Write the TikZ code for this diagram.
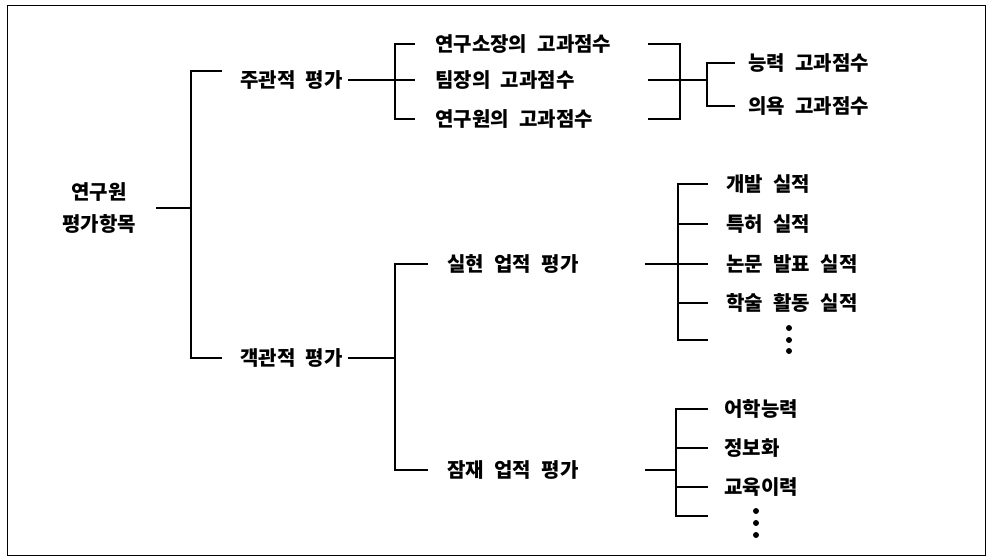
\documentclass[tikz,border=0pt]{standalone}
\usepackage{fontspec}
\setmainfont{Noto Sans CJK KR}
\begin{document}
\begin{tikzpicture}[x=1pt,y=-1pt,
  br/.style={line width=1.8pt},
  lab/.style={anchor=west,inner sep=0pt,
    font={\fontsize{20}{32}\selectfont\bfseries\spaceskip=10.5pt\relax}}]
\useasboundingbox (0,0) rectangle (988,559);
\draw[line width=0.9pt] (7,5) rectangle (985,555);

% texts
\node[lab,anchor=center,align=center] (root) at (99,208) {연구원\\평가항목};
\node[lab] (sub) at (240,80) {주관적 평가};
\node[lab] (obj) at (240,358) {객관적 평가};
\node[lab] (s1) at (435,44) {연구소장의 고과점수};
\node[lab] (s2) at (435,80) {팀장의 고과점수};
\node[lab] (s3) at (435,119) {연구원의 고과점수};
\node[lab] (c1) at (748,63) {능력 고과점수};
\node[lab] (c2) at (748,106) {의욕 고과점수};
\node[lab] (o1) at (447,264) {실현 업적 평가};
\node[lab] (o2) at (447,470) {잠재 업적 평가};
\node[lab] (a1) at (726,184) {개발 실적};
\node[lab] (a2) at (726,224) {특허 실적};
\node[lab] (a3) at (726,264) {논문 발표 실적};
\node[lab] (a4) at (726,303) {학술 활동 실적};
\node[lab] (b1) at (724,409) {어학능력};
\node[lab] (b2) at (724,448) {정보화};
\node[lab] (b3) at (724,487) {교육이력};

% dots
\foreach \yy in {328,340,351} \fill (789,\yy) circle[radius=3pt];
\foreach \yy in {511,523,535} \fill (756,\yy) circle[radius=3pt];

% junction coordinates
\coordinate (v0) at (191,208);
\coordinate (t0) at (222,71);
\coordinate (v1) at (395,80);
\coordinate (rx) at (648,0);
\coordinate (v2) at (680,80);
\coordinate (v3) at (707,80);
\coordinate (v4) at (395,358);
\coordinate (lx) at (645,0);
\coordinate (v5) at (678,264);
\coordinate (endA) at (708,340);
\coordinate (v6) at (676,470);
\coordinate (endB) at (708,516);

% root bracket
\draw[br] ([xshift=20pt]root.east) -- (root.east -| v0);
\draw[br] (t0) -| (v0) |- ([xshift=-18pt]obj.west);

% subjective
\draw[br] ([xshift=5pt]sub.east) -- (v1);
\draw[br] ([xshift=-20pt]s1.west) -| (v1) |- ([xshift=-20pt]s3.west);
\draw[br] (v1) -- ([xshift=-20pt]s2.west);
\draw[br] (s1.west -| rx) -| (v2) |- (s3.west -| rx);
\draw[br] (s2.west -| rx) -- (v2);
\draw[br] (v2) -- (v3);
\draw[br] ([xshift=-13pt]c1.west) -| (v3) |- ([xshift=-13pt]c2.west);

% objective
\draw[br] ([xshift=5pt]obj.east) -- (v4);
\draw[br] ([xshift=-19pt]o1.west) -| (v4) |- ([xshift=-19pt]o2.west);

\draw[br] (o1.west -| lx) -- (v5);
\draw[br] ([xshift=-18pt]a1.west) -| (v5) |- (endA);
\draw[br] (v5 |- a2.west) -- ([xshift=-18pt]a2.west);
\draw[br] (v5) -- ([xshift=-18pt]a3.west);
\draw[br] (v5 |- a4.west) -- ([xshift=-18pt]a4.west);

\draw[br] (o2.west -| lx) -- (v6);
\draw[br] ([xshift=-16pt]b1.west) -| (v6) |- (endB);
\draw[br] (v6 |- b2.west) -- ([xshift=-16pt]b2.west);
\draw[br] (v6 |- b3.west) -- ([xshift=-16pt]b3.west);
\end{tikzpicture}
\end{document}
